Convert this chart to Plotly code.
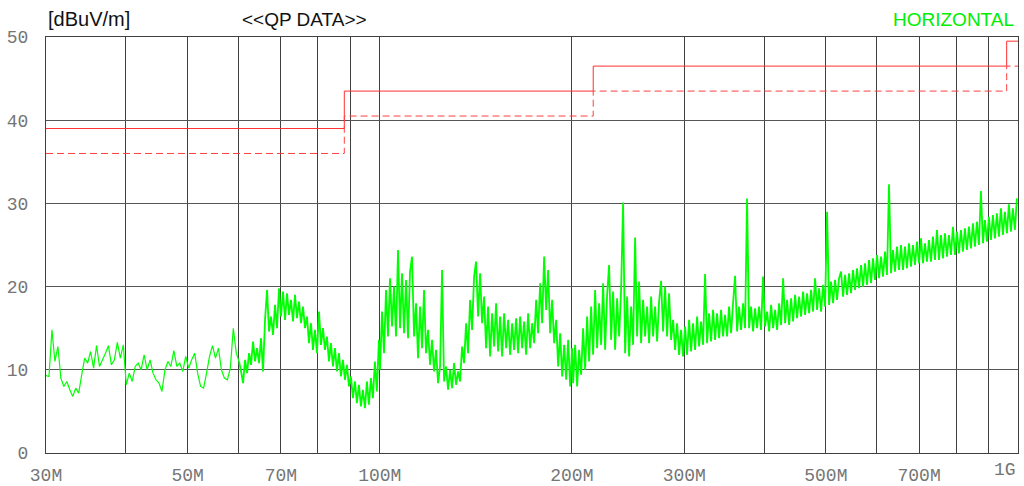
import numpy as np
import plotly.graph_objects as go

# ---------------- data ----------------
# Limit lines (frequency in MHz, level in dBuV/m), step changes
limit_freq = [30, 88, 216, 960, 1000]
limit_qp = [39.0, 43.5, 46.5, 49.5, 49.5]
limit_margin = [36.0, 40.5, 43.5, 46.5, 46.5]

# Measured QP trace, read segment by segment (sweep points evenly spaced on the log axis)
seg_a_range = (30.0, 59.6)
seg_a_dbuv = [9.3, 9.2, 14.8, 11.0, 12.8, 9.0, 8.0, 8.6, 7.6, 6.8, 7.8, 7.2, 9.4, 11.4, 10.8,
              12.2, 10.2, 12.9, 10.4, 11.2, 12.0, 12.9, 10.6, 11.2, 13.3, 11.4, 13.0, 8.2, 9.6,
              8.6, 10.4, 10.8, 10.0, 11.8, 10.0, 11.2, 9.6, 8.8, 8.4, 7.4, 10.0, 11.0, 10.4, 12.3,
              10.4, 10.8, 9.8, 11.6, 10.2, 11.2, 12.0, 9.6, 8.0, 7.8, 9.6, 11.6, 12.9, 11.4, 12.6,
              10.0, 9.0, 8.8, 10.2, 15.0, 12.0]

seg_b_range = (60.2, 99.7)
seg_b_dbuv = [11.0, 9.8, 8.4, 11.2, 9.6, 12.0, 10.6, 13.4, 11.0, 12.6, 10.8, 13.8, 9.8, 16.0,
              19.6, 14.6, 16.4, 14.2, 17.8, 15.0, 19.8, 16.4, 19.4, 16.0, 19.2, 16.6, 18.4, 15.8,
              19.0, 16.2, 18.2, 15.6, 17.6, 15.0, 16.4, 13.2, 15.6, 12.4, 14.8, 12.0, 17.0, 13.0,
              15.0, 12.4, 14.0, 11.0, 13.2, 10.4, 12.6, 9.8, 12.0, 9.2, 11.2, 8.8, 10.6, 8.0, 9.2,
              6.6, 8.6, 6.0, 8.2, 5.6, 7.6, 5.4, 8.6, 5.8, 9.0, 6.6, 11.0, 7.4, 13.6]

seg_c_range = (100.1, 200.2)
seg_c_dbuv = [10.0, 17.0, 12.0, 19.6, 14.0, 21.0, 15.2, 20.0, 14.0, 24.4, 15.0, 21.6, 14.4, 20.8,
              13.8, 21.8, 23.6, 14.0, 18.0, 11.4, 17.6, 12.6, 19.6, 12.0, 14.8, 10.6, 13.6, 9.8,
              12.4, 8.4, 10.4, 22.0, 8.6, 10.4, 7.6, 10.0, 7.8, 10.8, 8.2, 9.8, 8.6, 12.8, 10.8,
              15.6, 12.0, 18.4, 14.8, 21.2, 23.0, 16.4, 21.6, 15.6, 18.8, 12.6, 17.6, 11.6, 16.8,
              12.8, 18.0, 12.2, 16.4, 11.6, 16.8, 12.6, 16.0, 11.8, 15.6, 12.4, 16.2, 12.0, 16.4,
              12.6, 15.8, 11.8, 16.8, 12.6, 15.6, 13.2, 18.4, 14.4, 20.4, 15.6, 23.6, 17.2, 22.0,
              14.4, 18.4, 13.2, 16.0, 10.4, 14.4, 9.2, 13.0, 8.8, 13.6, 8.0, 12.6]

seg_d_range = (200.9, 401.5)
seg_d_dbuv = [8.4, 13.0, 8.0, 12.4, 9.4, 15.0, 10.0, 16.4, 11.0, 17.6, 11.8, 19.6, 12.6, 18.0,
              13.0, 20.4, 12.4, 19.0, 22.6, 13.6, 19.4, 12.4, 18.6, 14.0, 19.6, 30.1, 12.0, 18.8,
              11.6, 17.6, 13.0, 25.9, 14.0, 20.6, 13.2, 18.4, 14.0, 17.6, 13.2, 18.8, 14.0, 17.6,
              13.4, 18.2, 20.7, 14.6, 20.0, 14.0, 19.2, 13.6, 16.0, 12.4, 15.6, 11.8, 14.8, 11.6,
              15.2, 11.8, 16.0, 12.2, 15.6, 12.4, 16.4, 12.8, 15.8, 13.0, 21.5, 13.2, 16.8, 13.4,
              17.2, 13.6, 16.8, 13.8, 17.2, 14.0, 16.6, 14.0, 17.6, 14.4, 18.0, 21.3, 14.6, 17.6,
              14.8, 18.0, 15.0, 30.6, 15.0, 17.6, 14.6, 17.4, 15.0, 17.6, 14.8, 21.2, 15.2]

seg_e_range = (404.5, 996.0)
seg_e_dbuv = [17.0, 14.6, 17.8, 15.0, 17.2, 14.8, 18.0, 15.4, 21.0, 15.6, 18.4, 15.4, 18.6, 15.8,
              19.0, 16.2, 18.8, 16.4, 19.4, 16.6, 19.2, 16.8, 19.6, 17.0, 21.0, 17.2, 19.8, 17.0,
              20.2, 17.6, 29.0, 17.8, 20.6, 18.0, 20.8, 18.4, 21.0, 21.8, 18.8, 21.4, 19.0, 21.6,
              19.2, 22.0, 19.6, 22.2, 19.8, 22.6, 20.0, 22.8, 20.2, 23.2, 20.4, 23.4, 20.8, 23.8,
              21.0, 23.6, 21.2, 24.2, 21.4, 32.3, 21.6, 24.4, 21.8, 24.8, 22.0, 25.0, 22.0, 24.8,
              22.2, 25.2, 22.4, 25.0, 22.6, 25.4, 22.8, 25.8, 22.8, 25.2, 23.0, 25.6, 23.0, 26.0,
              23.2, 26.8, 23.2, 26.2, 23.4, 26.4, 23.6, 26.2, 23.8, 27.2, 23.8, 26.6, 24.0, 26.8,
              24.2, 27.0, 24.4, 27.2, 24.6, 27.6, 24.8, 27.8, 25.0, 31.5, 25.2, 28.0, 25.4, 28.4,
              25.6, 28.6, 25.8, 28.8, 26.0, 29.4, 26.2, 29.0, 26.4, 29.9, 26.6, 29.4, 26.8, 30.6]

grid_freqs = [30, 40, 50, 60, 70, 80, 90, 100, 200, 300, 400, 500, 600, 700, 800, 900, 1000]
x_tick_labels = ["30M", "", "50M", "", "70M", "", "", "100M", "200M", "300M", "", "500M",
                 "", "700M", "", "", ""]
y_ticks = [0, 10, 20, 30, 40, 50]

# ---------------- build ----------------
def sweep(rng, vals):
    return np.geomspace(rng[0], rng[1], len(vals))

thin_segments = [(seg_a_range, seg_a_dbuv)]
dense_segments = [(seg_b_range, seg_b_dbuv), (seg_c_range, seg_c_dbuv),
                  (seg_d_range, seg_d_dbuv), (seg_e_range, seg_e_dbuv)]

thin_f = np.concatenate([sweep(r, v) for r, v in thin_segments])
thin_v = np.concatenate([np.array(v, dtype=float) for r, v in thin_segments])
dense_f = np.concatenate([sweep(r, v) for r, v in dense_segments])
dense_v = np.concatenate([np.array(v, dtype=float) for r, v in dense_segments])
# join the two parts of the same trace
thin_f = np.append(thin_f, dense_f[0])
thin_v = np.append(thin_v, dense_v[0])

fig = go.Figure()
fig.add_trace(go.Scatter(x=limit_freq, y=limit_qp, mode="lines", line_shape="hv",
                         line=dict(color="#ff3030", width=1), hoverinfo="skip"))
fig.add_trace(go.Scatter(x=limit_freq, y=limit_margin, mode="lines", line_shape="hv",
                         line=dict(color="#ff4040", width=1, dash="7px,4px"), hoverinfo="skip"))
fig.add_trace(go.Scatter(x=thin_f, y=thin_v, mode="lines",
                         line=dict(color="#00ff00", width=1.2, simplify=False), hoverinfo="skip"))
fig.add_trace(go.Scatter(x=dense_f, y=dense_v, mode="lines",
                         line=dict(color="#00ff00", width=1.8, simplify=False), hoverinfo="skip"))

tick_font = dict(family="Liberation Mono, monospace", size=18, color="#757575")
fig.update_xaxes(type="log", range=[np.log10(30), np.log10(1000)],
                 tickvals=grid_freqs, ticktext=x_tick_labels, tickfont=tick_font,
                 showgrid=True, gridcolor="#404040", gridwidth=1,
                 showline=True, linecolor="#404040", linewidth=1, mirror=True,
                 ticks="", ticklabelstandoff=5, zeroline=False, automargin=False)
fig.update_yaxes(range=[0, 50], tickvals=y_ticks, ticktext=[str(t) for t in y_ticks],
                 tickfont=tick_font, showgrid=True, gridcolor="#555555", gridwidth=1,
                 showline=True, linecolor="#404040", linewidth=1, mirror=True,
                 ticks="", ticklabelstandoff=13, zeroline=False, automargin=False)

title_font = dict(family="Liberation Sans, Arial, sans-serif", size=19, color="#111111")
fig.add_annotation(text="[dBuV/m]", xref="paper", yref="paper", x=0.0, y=1.0,
                   xanchor="left", yanchor="bottom", yshift=5, showarrow=False,
                   font=dict(family="Liberation Sans, Arial, sans-serif", size=20, color="#111111"))
fig.add_annotation(text="&lt;&lt;QP DATA&gt;&gt;", xref="paper", yref="paper", x=0.200, y=1.0,
                   xanchor="left", yanchor="bottom", yshift=5, showarrow=False, font=title_font)
fig.add_annotation(text="HORIZONTAL", xref="paper", yref="paper", x=0.998, y=1.0,
                   xanchor="right", yanchor="bottom", yshift=5, showarrow=False,
                   font=dict(family="Liberation Sans, Arial, sans-serif", size=19, color="#00ee00"))
fig.add_annotation(text="1G", xref="x", yref="paper", x=np.log10(1000), y=0,
                   xanchor="right", yanchor="top", yshift=-5, xshift=0, showarrow=False,
                   font=tick_font)

fig.update_layout(width=1024, height=486, showlegend=False,
                  margin=dict(l=46, r=6, t=37, b=33, autoexpand=False),
                  paper_bgcolor="white", plot_bgcolor="white")
fig.write_html("out.html", config={"displayModeBar": False},
               post_script="document.body.style.margin='0';document.body.style.overflow='hidden';")
